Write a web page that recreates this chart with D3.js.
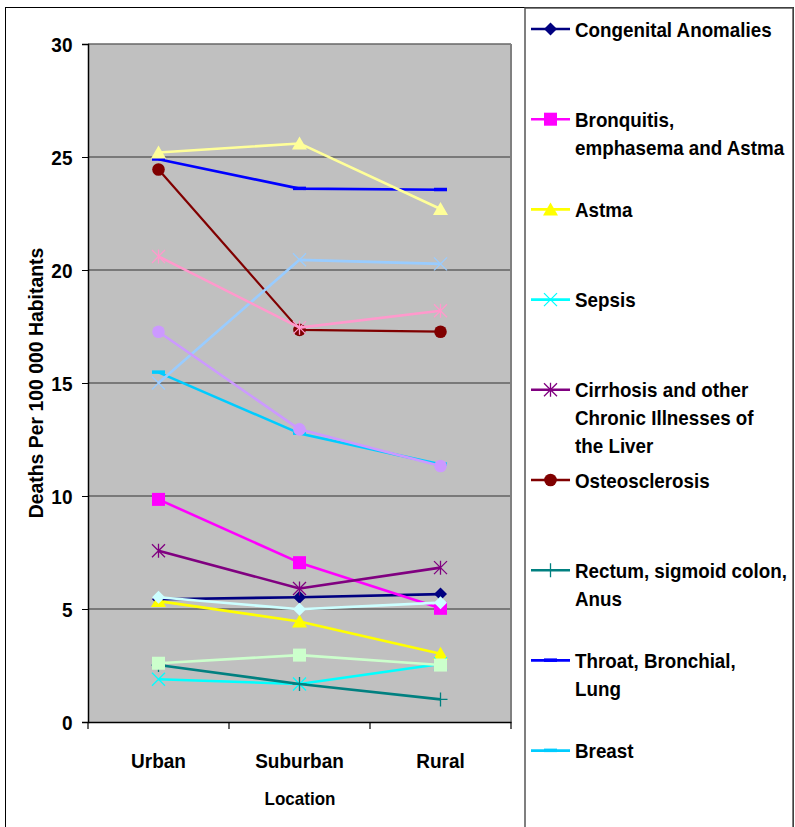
<!DOCTYPE html>
<html><head><meta charset="utf-8">
<script src="https://cdn.jsdelivr.net/npm/d3@7"></script>
<style>body{margin:0;background:#fff;} text{font-family:"Liberation Sans",Arial,sans-serif;font-weight:bold;}</style>
</head><body><svg id="c" width="795" height="827"></svg>
<script>
const categories = ["Urban", "Suburban", "Rural"];
const yTicks = [0, 5, 10, 15, 20, 25, 30];
const seriesNames = ["Congenital Anomalies", "Bronquitis, emphasema and Astma", "Astma", "Sepsis",
  "Cirrhosis and other Chronic Illnesses of the Liver", "Osteosclerosis", "Rectum, sigmoid colon, Anus",
  "Throat, Bronchial, Lung", "Breast", "Series 10", "Series 11", "Series 12", "Series 13", "Series 14", "Series 15"];
const legendLines = [["Congenital Anomalies"], ["Bronquitis,", "emphasema and Astma"], ["Astma"], ["Sepsis"],
  ["Cirrhosis and other", "Chronic Illnesses of", "the Liver"], ["Osteosclerosis"], ["Rectum, sigmoid colon,", "Anus"],
  ["Throat, Bronchial,", "Lung"], ["Breast"]];
const seriesValues = [
  [5.43, 5.52, 5.66],
  [9.85, 7.05, 5.03],
  [5.35, 4.45, 3.02],
  [1.89, 1.68, 2.57],
  [7.58, 5.91, 6.83],
  [24.45, 17.35, 17.27],
  [2.52, 1.68, 1.0],
  [24.9, 23.6, 23.55],
  [15.47, 12.77, 11.4],
  [5.52, 4.99, 5.28],
  [2.6, 2.96, 2.52],
  [25.2, 25.6, 22.7],
  [15.0, 20.45, 20.27],
  [20.6, 17.45, 18.2],
  [17.27, 12.95, 11.33]
];
const colors = ["#000080", "#FF00FF", "#FFFF00", "#00FFFF", "#800080", "#800000", "#008080", "#0000FF", "#00CCFF",
  "#CCFFFF", "#CCFFCC", "#FFFF99", "#99CCFF", "#FF99CC", "#CC99FF"];
const markers = ["diamond", "square", "triangle", "x", "star", "circle", "plus", "dash", "dash",
  "diamond", "square", "triangle", "x", "star", "circle"];

const svg = d3.select("#c");
const L = 88, R = 511, T = 44, B = 722;
const x = d3.scalePoint().domain(categories).range([L, R]).padding(0.5);
const y = d3.scaleLinear().domain([0, 30]).range([B, T]);

function label(parent, tx, ty, str, size, anchor, rot) {
  const g = parent.append("g").attr("transform", `translate(${tx},${ty})` + (rot ? ` rotate(${rot})` : "") + " scale(1,1.1)");
  return g.append("text").attr("text-anchor", anchor || "start").attr("font-size", size).attr("fill", "#000").text(str);
}

// outer border
svg.append("rect").attr("x", 5.5).attr("y", 7.5).attr("width", 788).attr("height", 830).attr("fill", "none").attr("stroke", "#000").attr("stroke-width", 1);
// legend box
svg.append("rect").attr("x", 525).attr("y", 8).attr("width", 268).attr("height", 830).attr("fill", "#fff").attr("stroke", "#555").attr("stroke-width", 1.5);

// plot bg
svg.append("rect").attr("x", L).attr("y", T).attr("width", R - L).attr("height", B - T).attr("fill", "#C0C0C0");
// gridlines
svg.append("g").selectAll("line").data(yTicks.filter(d => d > 0)).join("line")
  .attr("x1", L).attr("x2", R).attr("y1", d => y(d)).attr("y2", d => y(d)).attr("stroke", "#333").attr("stroke-width", 1);
svg.append("line").attr("x1", R).attr("x2", R).attr("y1", T).attr("y2", B).attr("stroke", "#808080").attr("stroke-width", 2);
svg.append("line").attr("x1", L).attr("x2", R).attr("y1", T).attr("y2", T).attr("stroke", "#808080").attr("stroke-width", 1);

// y axis
const yAxis = svg.append("g").attr("transform", `translate(${L},0)`)
  .call(d3.axisLeft(y).tickValues(yTicks).tickSize(6).tickFormat(""));
yAxis.select(".domain").attr("stroke", "#000").attr("stroke-width", 1.5);
yTicks.forEach(t => label(svg, 72.5, y(t) + 7.5, String(t), 19, "end"));
// x axis
const xBand = d3.scaleBand().domain(categories).range([L, R]);
const xAxis = svg.append("g").attr("transform", `translate(0,${B})`)
  .call(d3.axisBottom(x).tickSize(0).tickFormat(""));
xAxis.select(".domain").attr("stroke", "#000").attr("stroke-width", 1.5);
categories.forEach(c => label(svg, x(c), 768, c, 19, "middle"));
svg.append("g").selectAll("line").data([L, ...categories.map(c => xBand(c) + xBand.bandwidth())]).join("line")
  .attr("x1", d => d).attr("x2", d => d).attr("y1", B).attr("y2", B + 7).attr("stroke", "#000").attr("stroke-width", 1.2);

// axis titles
svg.append("text").attr("transform", "translate(43,383) rotate(-90)").attr("text-anchor", "middle")
  .attr("font-size", 19.4).attr("fill", "#000").text("Deaths Per 100 000 Habitants");
label(svg, 300, 805, "Location", 17, "middle");

function drawMarker(g, type, cx, cy, color) {
  const s = 6.5;
  if (type === "diamond") {
    g.append("path").attr("d", `M${cx},${cy - s}L${cx + s},${cy}L${cx},${cy + s}L${cx - s},${cy}Z`).attr("fill", color);
  } else if (type === "square") {
    g.append("rect").attr("x", cx - 6.5).attr("y", cy - 6.5).attr("width", 13).attr("height", 13).attr("fill", color);
  } else if (type === "triangle") {
    g.append("path").attr("d", `M${cx},${cy - 7}L${cx + 7.5},${cy + 6}L${cx - 7.5},${cy + 6}Z`).attr("fill", color);
  } else if (type === "circle") {
    g.append("circle").attr("cx", cx).attr("cy", cy).attr("r", 6.3).attr("fill", color);
  } else if (type === "x") {
    g.append("path").attr("d", `M${cx - 6.5},${cy - 6.5}L${cx + 6.5},${cy + 6.5}M${cx - 6.5},${cy + 6.5}L${cx + 6.5},${cy - 6.5}`)
      .attr("stroke", color).attr("stroke-width", 1.3);
  } else if (type === "star") {
    g.append("path").attr("d", `M${cx - 6.5},${cy - 6.5}L${cx + 6.5},${cy + 6.5}M${cx - 6.5},${cy + 6.5}L${cx + 6.5},${cy - 6.5}M${cx},${cy - 7}L${cx},${cy + 7}`)
      .attr("stroke", color).attr("stroke-width", 1.3);
  } else if (type === "plus") {
    g.append("path").attr("d", `M${cx - 7},${cy}L${cx + 7},${cy}M${cx},${cy - 7}L${cx},${cy + 7}`)
      .attr("stroke", color).attr("stroke-width", 1.3);
  } else if (type === "dash") {
    g.append("rect").attr("x", cx - 6.5).attr("y", cy - 2).attr("width", 13).attr("height", 3.5).attr("fill", color);
  }
}

const line = d3.line().x((d, i) => x(categories[i])).y(d => y(d));
seriesValues.forEach((vals, si) => {
  const g = svg.append("g");
  g.append("path").attr("d", line(vals)).attr("fill", "none").attr("stroke", colors[si])
    .attr("stroke-width", si === 5 ? 2.2 : 2.6).attr("stroke-linejoin", "round");
  vals.forEach((v, i) => drawMarker(g, markers[si], x(categories[i]), y(v), colors[si]));
});

// legend
const lg = svg.append("g");
legendLines.forEach((lines, i) => {
  const cy = 29 + i * 90.2;
  lg.append("line").attr("x1", 531).attr("x2", 570).attr("y1", cy).attr("y2", cy).attr("stroke", colors[i]).attr("stroke-width", 2.6);
  drawMarker(lg, markers[i], 550.5, cy, colors[i]);
  lines.forEach((t, j) => label(lg, 575, cy + j * 28 + 7.5, t, 18.8, "start"));
});
</script></body></html>
